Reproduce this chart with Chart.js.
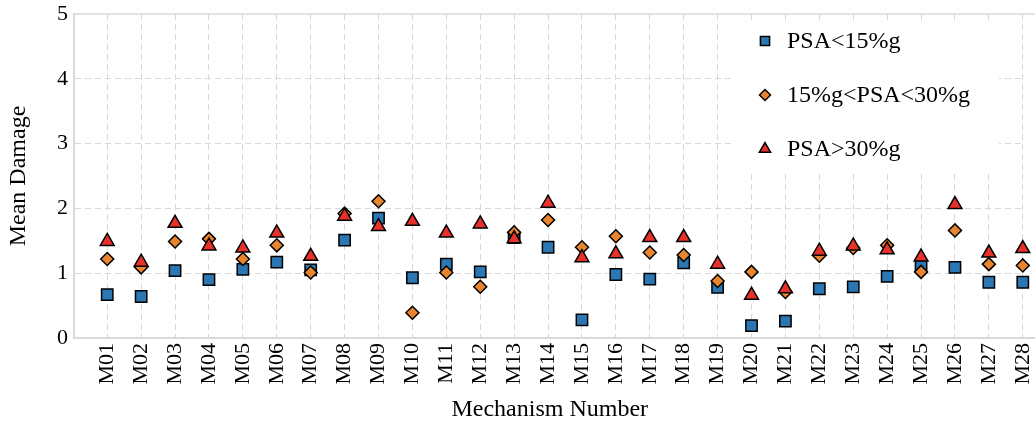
<!DOCTYPE html>
<html>
<head>
<meta charset="utf-8">
<script src="https://cdn.jsdelivr.net/npm/chart.js@4.4.1/dist/chart.umd.min.js"></script>
<style>
    html, body { margin: 0; padding: 0; background: #fff; }
    #wrap { width: 1035px; height: 424px; position: relative; }
</style>
</head>
<body>
<div id="wrap"><canvas id="chart"></canvas></div>
<script>
const categories = ['M01','M02','M03','M04','M05','M06','M07','M08','M09','M10','M11','M12','M13','M14',
                    'M15','M16','M17','M18','M19','M20','M21','M22','M23','M24','M25','M26','M27','M28'];

const psaLow = [0.67,0.64,1.04,0.90,1.06,1.17,1.05,1.51,1.85,0.93,1.14,1.02,1.55,1.40,
                0.28,0.98,0.91,1.16,0.78,0.19,0.26,0.76,0.79,0.95,1.11,1.09,0.86,0.86];
const psaMid = [1.22,1.09,1.49,1.53,1.22,1.43,1.01,1.92,2.11,0.39,1.01,0.79,1.63,1.82,
                1.40,1.57,1.32,1.28,0.88,1.02,0.71,1.27,1.39,1.43,1.02,1.66,1.14,1.12];
const psaHigh = [1.49,1.17,1.77,1.42,1.39,1.62,1.26,1.88,1.72,1.80,1.62,1.76,1.53,2.08,
                 1.24,1.30,1.55,1.55,1.14,0.66,0.76,1.34,1.42,1.36,1.25,2.06,1.31,1.38];

const yTicks = [0, 1, 2, 3, 4, 5];

const FONT = "'Liberation Serif', 'DejaVu Serif', serif";

function toPoints(values) {
    return values.map((v, i) => ({ x: i + 1, y: v }));
}

// legend drawn inside the plot, top right, on a white box
const insideLegend = {
    id: 'insideLegend',
    afterDraw(chart) {
        const ctx = chart.ctx;
        const area = chart.chartArea;

        // top spine, and bottom spine carried on to the edge
        ctx.save();
        ctx.strokeStyle = '#d9d9d9';
        ctx.lineWidth = 1.5;
        ctx.beginPath();
        ctx.moveTo(area.left, area.top);
        ctx.lineTo(chart.width, area.top);
        ctx.stroke();
        ctx.lineWidth = 2;
        ctx.beginPath();
        ctx.moveTo(area.right - 1, area.bottom);
        ctx.lineTo(chart.width, area.bottom);
        ctx.stroke();

        ctx.fillStyle = '#ffffff';
        ctx.fillRect(733, 20, 266, 152);

        ctx.font = '24px ' + FONT;
        ctx.textBaseline = 'middle';
        ctx.textAlign = 'left';

        chart.data.datasets.forEach((ds, i) => {
            const y = 41 + i * 54;
            ctx.fillStyle = ds.backgroundColor;
            ctx.strokeStyle = ds.borderColor;
            ctx.lineWidth = 1.5;
            Chart.helpers.drawPoint(ctx, {
                pointStyle: ds.pointStyle,
                radius: ds.legendRadius,
                rotation: 0,
                borderWidth: 1.5
            }, 765, y);
            ctx.fillStyle = '#000';
            ctx.fillText(ds.label, 787, y + 1);
        });
        ctx.restore();
    }
};

const ctx = document.getElementById('chart').getContext('2d');

new Chart(ctx, {
    type: 'scatter',
    data: {
        datasets: [{
            label: 'PSA<15%g',
            data: toPoints(psaLow),
            pointStyle: 'rect',
            pointRadius: 8,
            legendRadius: 6.5,
            backgroundColor: '#2a77b4',
            borderColor: '#000',
            borderWidth: 1.5,
            clip: false,
            order: 3
        }, {
            label: '15%g<PSA<30%g',
            data: toPoints(psaMid),
            pointStyle: 'rectRot',
            pointRadius: 6.5,
            legendRadius: 5.5,
            backgroundColor: '#e8862f',
            borderColor: '#000',
            borderWidth: 1.5,
            clip: false,
            order: 2
        }, {
            label: 'PSA>30%g',
            data: toPoints(psaHigh),
            pointStyle: 'triangle',
            pointRadius: 8,
            legendRadius: 6.5,
            backgroundColor: '#e8312a',
            borderColor: '#000',
            borderWidth: 1.5,
            clip: false,
            order: 1
        }]
    },
    options: {
        responsive: true,
        maintainAspectRatio: false,
        animation: false,
        layout: {
            padding: { top: 14, right: 0, left: 0, bottom: 0 }
        },
        plugins: {
            legend: { display: false },
            tooltip: { enabled: false }
        },
        scales: {
            x: {
                type: 'linear',
                min: 0.02,
                max: 28.08,
                afterFit: (scale) => {
                    scale.height = 86;
                    scale.paddingLeft = 0;
                    scale.paddingRight = 0;
                },
                afterBuildTicks: (scale) => {
                    scale.ticks = categories.map((c, i) => ({ value: i + 1 }));
                },
                ticks: {
                    autoSkip: false,
                    minRotation: 90,
                    maxRotation: 90,
                    padding: 5,
                    color: '#000',
                    font: { family: FONT, size: 22 },
                    callback: (value) => categories[value - 1] || ''
                },
                grid: {
                    color: '#d8d8d8',
                    lineWidth: 1,
                    drawTicks: false
                },
                border: {
                    display: true,
                    color: '#d9d9d9',
                    width: 2,
                    dash: [6, 4]
                },
                title: {
                    display: true,
                    text: 'Mechanism Number',
                    color: '#000',
                    font: { family: FONT, size: 24 },
                    padding: { top: 0, bottom: 0 }
                }
            },
            y: {
                min: 0,
                max: 5,
                afterFit: (scale) => {
                    scale.width = 74;
                    scale.paddingTop = 0;
                    scale.paddingBottom = 0;
                },
                afterBuildTicks: (scale) => {
                    scale.ticks = yTicks.map(v => ({ value: v }));
                },
                ticks: {
                    padding: 6,
                    color: '#000',
                    font: { family: FONT, size: 22 }
                },
                grid: {
                    color: (c) => (c.tick && c.tick.value === 5) ? 'rgba(0,0,0,0)' : '#d8d8d8',
                    lineWidth: 1,
                    drawTicks: false
                },
                border: {
                    display: true,
                    color: '#d9d9d9',
                    width: 2,
                    dash: [6, 4]
                },
                title: {
                    display: true,
                    text: 'Mean Damage',
                    color: '#000',
                    font: { family: FONT, size: 24 },
                    padding: { top: 4, bottom: 4 }
                }
            }
        }
    },
    plugins: [insideLegend]
});
</script>
</body>
</html>
